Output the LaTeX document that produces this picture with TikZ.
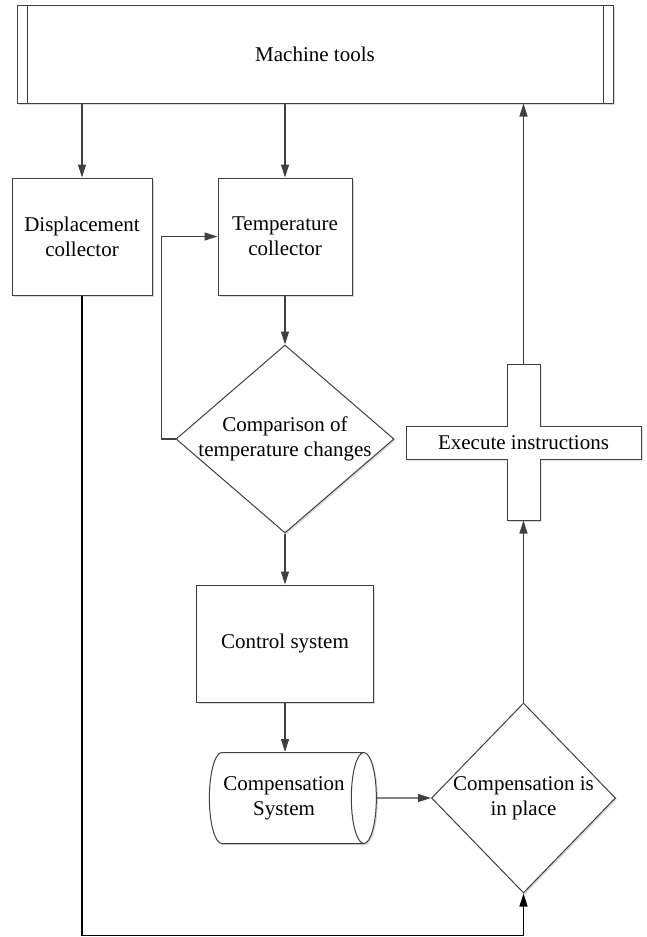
\documentclass[tikz,border=0pt]{standalone}
\usepackage{fontspec}
\setmainfont{Liberation Serif}
\usetikzlibrary{arrows.meta,shapes.geometric,shadows}
\tikzset{
	shade line/.style={draw=black!75,line width=1pt,fill=white,drop shadow={shadow xshift=1.5pt,shadow yshift=-1.5pt,fill=black!15,opacity=1}},
	box/.style={shade line,rectangle,align=center},
	decision/.style={shade line,diamond},
	store/.style={shade line,cylinder,aspect=0.5,align=center},
	flow/.style={->,draw=black!75,line width=1.3pt},
}
\begin{document}
\begin{tikzpicture}[>={Triangle[length=13pt,width=8pt]},x=1pt,y=-1pt,font=\fontsize{21pt}{25pt}\selectfont]
		\useasboundingbox (0,0) rectangle (646,937);
		\node[box,minimum width=596pt,minimum height=98pt] (tool) at (315,54) {Machine tools};
		\draw[draw=black!75,line width=1pt] ([xshift=11pt]tool.north west) -- ([xshift=11pt]tool.south west);
		\draw[draw=black!75,line width=1pt] ([xshift=-10pt]tool.north east) -- ([xshift=-10pt]tool.south east);
		\node[box,minimum width=140pt,minimum height=117pt] (disp) at (82,236.5) {Displacement\\collector};
		\node[box,minimum width=134pt,minimum height=117pt] (temp) at (285,236.5) {Temperature\\collector};
		\node[decision,minimum width=218pt,minimum height=188pt] (cmp) at (285,439) {};
		\node[align=center] (cmpText) at (cmp.center) {Comparison of\\temperature changes};
		\node[box,minimum width=177pt,minimum height=117pt] (ctrl) at (285,643.5) {Control system};
		\node[store,minimum height=167pt,minimum width=91pt] (comp) at (284,798) {Compensation\\System};
		\node[decision,minimum width=184pt,minimum height=190pt] (ok) at (523.5,798) {};
		\node[align=center] (okText) at (ok.center) {Compensation is\\in place};
		\coordinate (execC) at (523.5,442.5);
		\draw[shade line] (execC) ++(-16.5,-78) -- ++(33,0) -- ++(0,61.5) -- ++(101,0) -- ++(0,33) -- ++(-101,0) -- ++(0,61.5) -- ++(-33,0) -- ++(0,-61.5) -- ++(-101,0) -- ++(0,-33) -- ++(101,0) -- cycle;
		\node (exec) at (execC) {Execute instructions};
		\coordinate (execTop) at ([yshift=78pt]execC);
		\coordinate (execBot) at ([yshift=-78pt]execC);
		
		\draw[flow] (tool.south -| disp.north) -- (disp.north);
		\draw[flow] (tool.south -| temp.north) -- (temp.north);
		\draw[flow] (temp.south) -- (cmp.north);
		\draw[flow] (cmp.west) -- ++(-14,0) |- (temp.west);
		\draw[flow] (cmp.south) -- (ctrl.north);
		\draw[flow] (ctrl.south) -- (ctrl.south |- comp.north);
		\draw[flow] (comp.east) -- (ok.west);
		\draw[flow] (ok.north) -- (execBot);
		\draw[flow] (execTop) -- (execTop |- tool.south);
		\draw[flow,draw=black,line width=1.6pt] (disp.south) -- ++(0,640) -| (ok.south);
		
\end{tikzpicture}
\end{document}
